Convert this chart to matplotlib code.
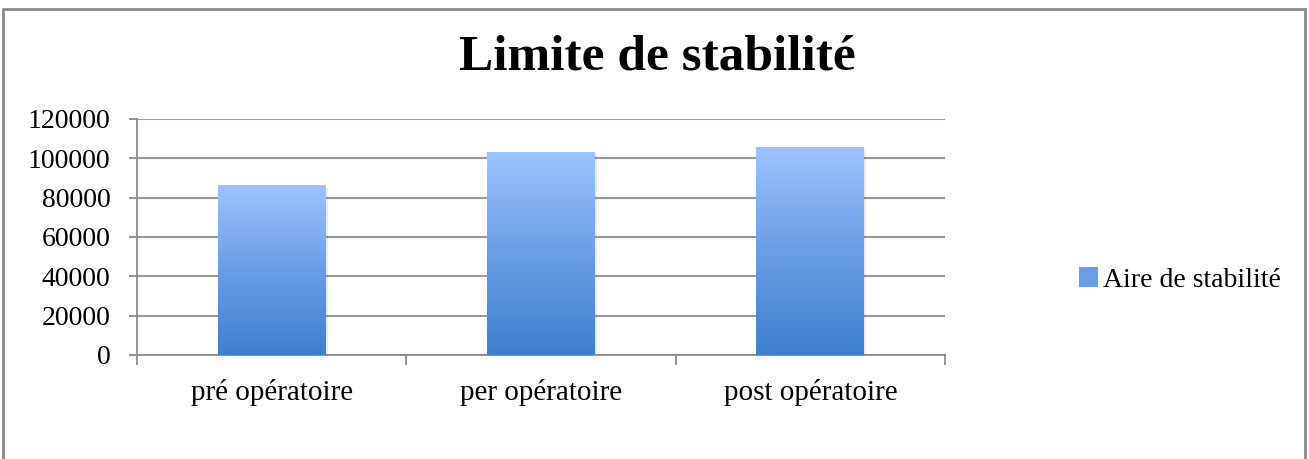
import numpy as np
import matplotlib.pyplot as plt
from matplotlib.colors import LinearSegmentedColormap
from matplotlib.patches import Rectangle, Patch

# chart data
categories = ['pré opératoire', 'per opératoire', 'post opératoire']
aire_stabilite = [86000, 103000, 105500]
series_name = 'Aire de stabilité'
title = 'Limite de stabilité'
yticks = [0, 20000, 40000, 60000, 80000, 100000, 120000]

plt.rcParams['font.family'] = ['Liberation Serif', 'DejaVu Serif']

fig = plt.figure(figsize=(13.09, 4.59), dpi=100)
ax = fig.add_axes([137 / 1309, 1 - 355 / 459, 808 / 1309, 236 / 459])

# outer chart border (open at the bottom, like the cropped original)
fig.patches.append(Rectangle((3 / 1309, -0.05), 1302 / 1309, 1.05 - 9 / 459,
                             transform=fig.transFigure, fill=False,
                             edgecolor='#8a8a8a', linewidth=2, clip_on=False))

cmap = LinearSegmentedColormap.from_list('bar', ['#3f80ce', '#6a9de6', '#9dc3ff'])
grad = np.linspace(0, 1, 256).reshape(-1, 1)

x = np.arange(len(categories))
width = 0.4
bars = ax.bar(x, aire_stabilite, width, color='none', zorder=3)
for b in bars:
    x0, w, h = b.get_x(), b.get_width(), b.get_height()
    # soft shadow
    ax.add_patch(Rectangle((x0 + 0.008, -1000), w, h, facecolor='#000000',
                           alpha=0.08, linewidth=0, zorder=2))
    ax.imshow(grad, cmap=cmap, origin='lower', aspect='auto',
              extent=(x0, x0 + w, 0, h), zorder=3)

ax.set_xlim(-0.5, len(categories) - 0.5)
ax.set_ylim(0, 120000)
ax.set_yticks(yticks)
ax.set_yticklabels([str(v) for v in yticks], fontsize=20)
ax.set_xticks(x)
ax.set_xticklabels(categories, fontsize=21)
ax.tick_params(axis='x', length=0, pad=17)
ax.set_xticks(np.arange(len(categories) + 1) - 0.5, minor=True)
ax.tick_params(axis='x', which='minor', length=7, color='#8a8a8a', width=1.3)
ax.tick_params(axis='y', length=6, color='#8a8a8a', width=1.3, pad=13)

ax.grid(axis='y', color='#999999', linewidth=1.5, zorder=0)
ax.set_axisbelow(True)
for side in ['top', 'right']:
    ax.spines[side].set_visible(False)
for side in ['left', 'bottom']:
    ax.spines[side].set_color('#8a8a8a')
    ax.spines[side].set_linewidth(1.3)

fig.text(657 / 1309, 1 - 58 / 459, title, ha='center', va='center',
         fontsize=37, fontweight='bold')

handle = Patch(facecolor='#6a9de6', edgecolor='none')
fig.legend([handle], [series_name], loc='center left',
           bbox_to_anchor=(1054 / 1309, 1 - 280 / 459), frameon=False,
           fontsize=20, handlelength=0.7, handleheight=0.7, handletextpad=0.15)

fig.savefig('out.png', dpi=100)
